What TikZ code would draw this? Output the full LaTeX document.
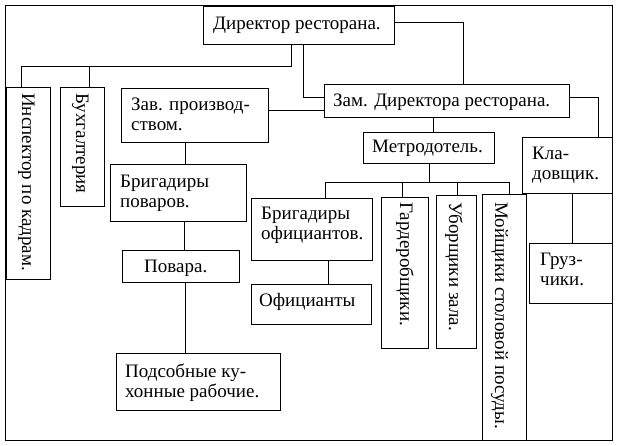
\documentclass[tikz,border=0pt]{standalone}
\usepackage{fontspec}
\setmainfont{Liberation Serif}
\begin{document}
\begin{tikzpicture}[x=1pt,y=-1pt,
  box/.style={draw, line width=1pt, inner sep=0pt, anchor=north west},
  txt/.style={inner sep=0pt, anchor=base west, font=\fontsize{19}{20}\selectfont, align=left},
  vtxt/.style={txt, rotate=-90},
  conn/.style={line width=1pt}]
\useasboundingbox (0,0) rectangle (618,445);
% frame
\draw[conn] (5,5) rectangle (612,440);
% boxes
\node[box, minimum width=191, minimum height=38] (dir) at (203,6) {};
\node[box, minimum width=245, minimum height=33] (zam) at (324,84) {};
\node[box, minimum width=147, minimum height=54] (zav) at (121,88) {};
\node[box, minimum width=131, minimum height=31] (metro) at (363,132) {};
\node[box, minimum width=90, minimum height=56] (klad) at (522,137) {};
\node[box, minimum width=83, minimum height=60] (gruz) at (529,243) {};
\node[box, minimum width=44, minimum height=192] (insp) at (6,87) {};
\node[box, minimum width=44, minimum height=119] (bukh) at (60,87) {};
\node[box, minimum width=136, minimum height=57] (bpov) at (110,164) {};
\node[box, minimum width=117, minimum height=32] (pov) at (122,250) {};
\node[box, minimum width=121, minimum height=62] (bof) at (251,198) {};
\node[box, minimum width=120, minimum height=40] (ofi) at (251,284) {};
\node[box, minimum width=164, minimum height=57] (pods) at (116,353) {};
\node[box, minimum width=47, minimum height=151] (gard) at (381,197) {};
\node[box, minimum width=40, minimum height=153] (ubor) at (436,195) {};
\node[box, minimum width=44, minimum height=246] (moy) at (482,194) {};
% texts (base = baseline of the last line)
\node[txt] (tdir) at (213,29) {Директор ресторана.};
\node[txt] (tzam) at (333,106) {Зам. Директора ресторана.};
\node[txt] (tzav) at (131,130) {Зав. производ-\\ством.};
\node[txt] (tmetro) at (372,152) {Метродотель.};
\node[txt] (tklad) at (532,179) {Кла-\\довщик.};
\node[txt] (tgruz) at (540,285) {Груз-\\чики.};
\node[txt] (tbpov) at (120,207) {Бригадиры\\поваров.};
\node[txt] (tpov) at (144,272) {Повара.};
\node[txt] (tbof) at (261,239) {Бригадиры\\официантов.};
\node[txt] (tofi) at (259,306) {Официанты};
\node[txt] (tpods) at (125,397) {Подсобные ку-\\хонные рабочие.};
\node[vtxt] (tinsp) at (22,93) {Инспектор по кадрам.};
\node[vtxt] (tbukh) at (76,93) {Бухгалтерия};
\node[vtxt] (tgard) at (400,202) {Гардеробщики.};
\node[vtxt] (tubor) at (449,202) {Уборщики зала.};
\node[vtxt] (tmoy) at (495,202) {Мойщики столовой посуды.};
% junctions
\coordinate (j1) at (291,66);
\coordinate (j2) at (463,22);
\coordinate (j3) at (303,97);
\coordinate (j4) at (598,97);
\coordinate (j5) at (429,182);
% connectors
\draw[conn] (dir.south -| j1) -- (j1) -| (insp.north west -| 21,0);
\draw[conn] (89,66) -- (bukh.north west -| 89,0);
\draw[conn] (dir.east |- j2) -| (zam.north -| j2);
\draw[conn] (dir.south -| j3) |- (zam.west |- j3);
\draw[conn] (zav.east |- 0,110) -- (zam.west |- 0,110);
\draw[conn] (zam.east |- j4) -| (klad.north -| j4);
\draw[conn] (klad.south -| 572,0) -- (gruz.north -| 572,0);
\draw[conn] (zam.south -| 433,0) -- (metro.north -| 433,0);
\draw[conn] (metro.south -| j5) -- (j5);
\draw[conn] (325,182) -- (509,182);
\draw[conn] (325,182) -- (bof.north -| 325,0);
\draw[conn] (402,182) -- (gard.north -| 402,0);
\draw[conn] (457,182) -- (ubor.north -| 457,0);
\draw[conn] (509,182) -- (moy.north -| 509,0);
\draw[conn] (bof.south -| 328,0) -- (ofi.north -| 328,0);
\draw[conn] (zav.south -| 185,0) -- (bpov.north -| 185,0);
\draw[conn] (bpov.south -| 184,0) -- (pov.north -| 184,0);
\draw[conn] (pov.south -| 185,0) -- (pods.north -| 185,0);
\end{tikzpicture}
\end{document}
